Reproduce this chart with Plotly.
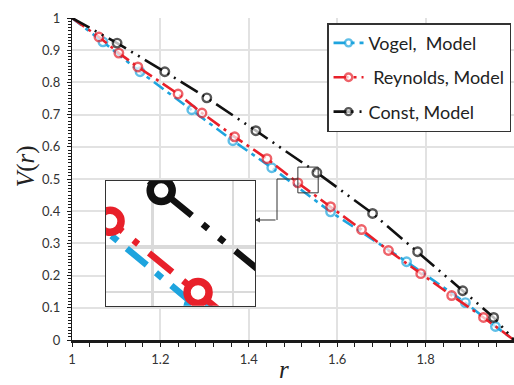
import plotly.graph_objects as go

# ---- data ----
r_vogel = [1.0, 1.070, 1.154, 1.271, 1.364, 1.452, 1.585, 1.757, 1.890, 1.958, 2.0]
v_vogel = [1.0, 0.926, 0.833, 0.715, 0.619, 0.535, 0.398, 0.243, 0.116, 0.042, 0.0]

r_reyn = [1.0, 1.061, 1.106, 1.149, 1.240, 1.294, 1.368, 1.441, 1.511, 1.585,
          1.655, 1.716, 1.789, 1.859, 1.931, 2.0]
v_reyn = [1.0, 0.941, 0.891, 0.848, 0.764, 0.705, 0.631, 0.563, 0.488, 0.414,
          0.343, 0.278, 0.206, 0.138, 0.070, 0.0]

r_const = [1.0, 1.102, 1.210, 1.305, 1.416, 1.554, 1.680, 1.782, 1.884, 1.954, 2.0]
v_const = [1.0, 0.922, 0.833, 0.752, 0.650, 0.520, 0.393, 0.274, 0.153, 0.070, 0.0]

series_names = ["Vogel,  Model", " Reynolds, Model", "Const, Model"]

BLUE = "#1ea4de"
RED = "#e8202a"
BLACK = "#111111"

styles = [
    (BLUE, "12px,5px,4px,5px", "26px,12px,8px,12px"),
    (RED, "15px,5px,3px,5px", "30px,14px,6px,14px"),
    (BLACK, "20px,6px,2px,6px,2px,6px", "34px,14px,7px,14px,7px,14px"),
]
datasets = [(r_vogel, v_vogel), (r_reyn, v_reyn), (r_const, v_const)]

fig = go.Figure()

for i, ((rs, vs), (col, dash_main, dash_ins), name) in enumerate(zip(datasets, styles, series_names)):
    sizes = [0] + [8.5] * (len(rs) - 2) + [0]
    fig.add_trace(go.Scatter(
        x=rs, y=vs, mode="lines+markers", name=name, legendgroup=str(i),
        line=dict(color=col, width=2.6, dash=dash_main),
        marker=dict(symbol="circle", size=sizes, color="white",
                    line=dict(color=col, width=2.4)),
        xaxis="x", yaxis="y",
    ))

# inset (zoomed view)
for i, ((rs, vs), (col, dash_main, dash_ins), name) in enumerate(zip(datasets, styles, series_names)):
    fig.add_trace(go.Scatter(
        x=rs, y=vs, mode="lines+markers", showlegend=False,
        line=dict(color=col, width=6.5, dash=dash_ins),
        marker=dict(symbol="circle", size=22, color="white",
                    line=dict(color=col, width=7.5)),
        xaxis="x2", yaxis="y2",
    ))

TICKFONT = dict(family="Lato", size=13, color="#333")

fig.update_layout(
    width=514, height=385,
    margin=dict(l=72, r=0, t=18, b=45),
    paper_bgcolor="white", plot_bgcolor="white",
    showlegend=True,
    legend=dict(
        x=0.577, y=0.984, xanchor="left", yanchor="top",
        bgcolor="white", bordercolor="#333", borderwidth=1.5,
        font=dict(family="Lato", size=18, color="#222"),
        tracegroupgap=8, itemwidth=30,
    ),
    xaxis=dict(
        domain=[0, 1], range=[1, 2], dtick=0.2, tick0=1,
        showgrid=True, gridcolor="#e2e2e2", gridwidth=1.5,
        zeroline=False, showline=True, linecolor="#1a1a1a", linewidth=2.6,
        ticks="outside", ticklen=4, tickwidth=1.2, tickcolor="#1a1a1a",
        minor=dict(dtick=0.04, ticks="outside", ticklen=4, tickwidth=1.2,
                   tickcolor="#1a1a1a", showgrid=False),
        tickfont=TICKFONT, automargin=False, ticklabelstandoff=2,
    ),
    yaxis=dict(
        domain=[0, 1], range=[0, 1], dtick=0.1, tick0=0,
        showgrid=True, gridcolor="#e2e2e2", gridwidth=1.5,
        zeroline=False, showline=True, linecolor="#1a1a1a", linewidth=1.4,
        ticks="outside", ticklen=4, tickwidth=1.2, tickcolor="#1a1a1a",
        minor=dict(dtick=0.01, ticks="outside", ticklen=2.5, tickwidth=1,
                   tickcolor="#1a1a1a", showgrid=False),
        tickfont=TICKFONT, automargin=False, ticklabelstandoff=4,
    ),
    xaxis2=dict(
        domain=[0.077, 0.414], anchor="y2", range=[1.5076, 1.6329],
        showticklabels=False, ticks="", tickvals=[1.547],
        showgrid=True, gridcolor="#dadada", gridwidth=3,
        minor=dict(tickvals=[1.614], showgrid=True, gridcolor="#dadada", gridwidth=1.5),
        zeroline=False, showline=True, mirror=True, linecolor="#333", linewidth=1.2,
    ),
    yaxis2=dict(
        domain=[0.106, 0.494], anchor="x2", range=[0.400, 0.530],
        showticklabels=False, ticks="", tickvals=[0.4614],
        showgrid=True, gridcolor="#dadada", gridwidth=4,
        minor=dict(tickvals=[0.4146], showgrid=True, gridcolor="#dadada", gridwidth=1.5),
        zeroline=False, showline=True, mirror=True, linecolor="#333", linewidth=1.2,
    ),
    shapes=[
        dict(type="rect", xref="x", yref="y", x0=1.511, x1=1.557, y0=0.457, y1=0.537,
             line=dict(color="#333", width=1), layer="above"),
        dict(type="line", xref="x", yref="y", x0=1.511, x1=1.4638, y0=0.5, y1=0.5,
             line=dict(color="#333", width=1)),
        dict(type="line", xref="x", yref="y", x0=1.4638, x1=1.4638, y0=0.5, y1=0.3727,
             line=dict(color="#333", width=1)),
    ],
    annotations=[
        dict(x=1.414, y=0.3727, ax=1.4638, ay=0.3727, xref="x", yref="y",
             axref="x", ayref="y", showarrow=True, arrowhead=2, arrowsize=1,
             arrowwidth=1, arrowcolor="#333", text=""),
        dict(text="<i>V</i>(<i>r</i>)", xref="paper", yref="paper",
             x=-0.104, y=0.54, xanchor="center", yanchor="middle",
             textangle=-90, showarrow=False,
             font=dict(family="Liberation Serif", size=25, color="#222")),
        dict(text="<i>r</i>", xref="paper", yref="paper",
             x=0.48, y=-0.092, xanchor="center", yanchor="middle", showarrow=False,
             font=dict(family="Liberation Serif", size=25, color="#222")),
    ],
)

fig.write_html("out.html")
